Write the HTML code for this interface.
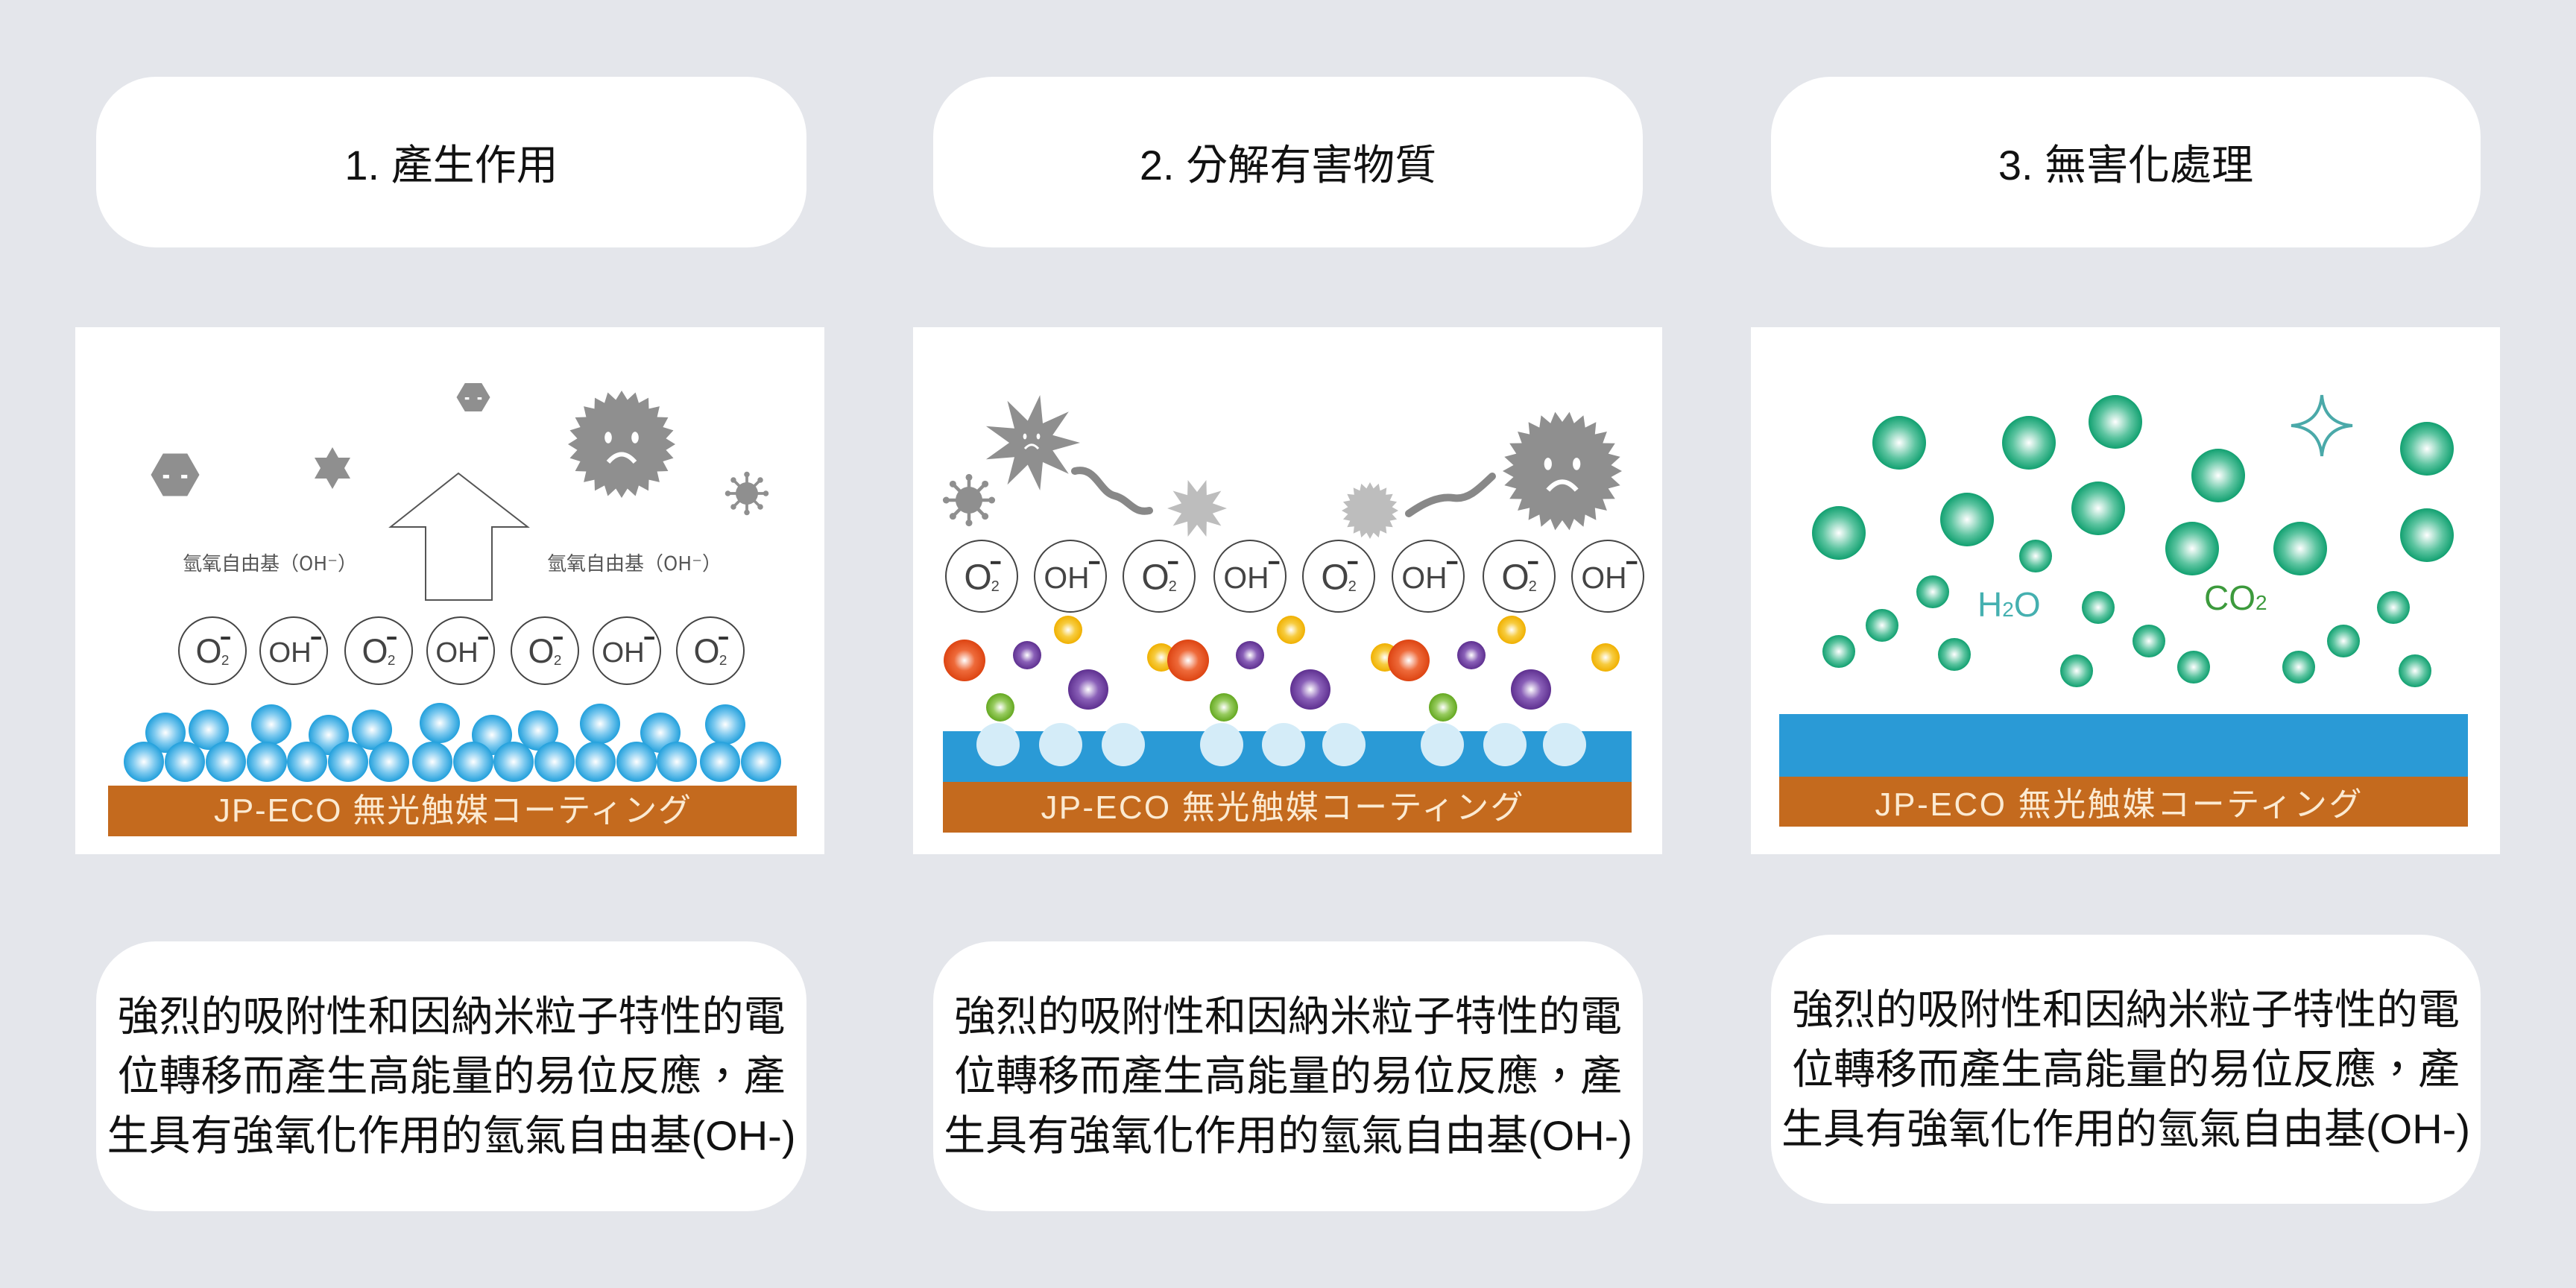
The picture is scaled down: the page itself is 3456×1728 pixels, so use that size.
<!DOCTYPE html>
<html><head><meta charset="utf-8"><style>
html,body{margin:0;padding:0;background:#e4e6eb;}
body{width:3456px;height:1728px;position:relative;overflow:hidden;font-family:"Liberation Sans","Noto Sans CJK TC",sans-serif;}
.box{position:absolute;background:#fff;border-radius:80px;display:flex;align-items:center;justify-content:center;text-align:center;color:#111;}
.hdr{font-size:56px;}
.txt{font-size:56px;line-height:80px;}
.panel{position:absolute;background:#fff;}
svg{position:absolute;left:0;top:0;}
</style></head><body>
<div class="box hdr" style="left:129px;top:103px;width:953px;height:229px;">1. 產生作用</div>
<div class="box hdr" style="left:1252px;top:103px;width:952px;height:229px;">2. 分解有害物質</div>
<div class="box hdr" style="left:2376px;top:103px;width:952px;height:229px;">3. 無害化處理</div>

<div class="panel" style="left:101px;top:439px;width:1005px;height:707px;"></div>
<div class="panel" style="left:1225px;top:439px;width:1005px;height:707px;"></div>
<div class="panel" style="left:2349px;top:439px;width:1005px;height:707px;"></div>

<div class="box txt" style="left:129px;top:1263px;width:953px;height:362px;">強烈的吸附性和因納米粒子特性的電<br>位轉移而產生高能量的易位反應，產<br>生具有強氧化作用的氫氣自由基(OH-)</div>
<div class="box txt" style="left:1252px;top:1263px;width:952px;height:362px;">強烈的吸附性和因納米粒子特性的電<br>位轉移而產生高能量的易位反應，產<br>生具有強氧化作用的氫氣自由基(OH-)</div>
<div class="box txt" style="left:2376px;top:1254px;width:952px;height:361px;">強烈的吸附性和因納米粒子特性的電<br>位轉移而產生高能量的易位反應，產<br>生具有強氧化作用的氫氣自由基(OH-)</div>

<svg id="s" width="3456" height="1728" viewBox="0 0 3456 1728" xmlns="http://www.w3.org/2000/svg">
<defs>
<radialGradient id="gb" cx="50%" cy="50%" r="50%"><stop offset="0" stop-color="#fff"/><stop offset="0.55" stop-color="#7cc9ef"/><stop offset="1" stop-color="#22a0dc"/></radialGradient>
<radialGradient id="gg" cx="50%" cy="50%" r="50%"><stop offset="0" stop-color="#fff"/><stop offset="0.6" stop-color="#5cc4a0"/><stop offset="1" stop-color="#11a070"/></radialGradient>
<radialGradient id="go" cx="50%" cy="50%" r="50%"><stop offset="0" stop-color="#fff"/><stop offset="0.5" stop-color="#ee6a3a"/><stop offset="1" stop-color="#dd4412"/></radialGradient>
<radialGradient id="gp" cx="50%" cy="50%" r="50%"><stop offset="0" stop-color="#fff"/><stop offset="0.5" stop-color="#8a60b8"/><stop offset="1" stop-color="#5e3090"/></radialGradient>
<radialGradient id="gy" cx="50%" cy="50%" r="50%"><stop offset="0" stop-color="#fff"/><stop offset="0.5" stop-color="#f7cc40"/><stop offset="1" stop-color="#f0b000"/></radialGradient>
<radialGradient id="gl" cx="50%" cy="50%" r="50%"><stop offset="0" stop-color="#fff"/><stop offset="0.5" stop-color="#98cc60"/><stop offset="1" stop-color="#64a820"/></radialGradient>
</defs>
<!-- panel 1 -->
<rect x="145" y="1054" width="924" height="68" fill="#c46a1e"/>
<text x="607" y="1102" font-size="44" fill="#fbead2" text-anchor="middle" textLength="640" font-family="Liberation Sans,Noto Sans CJK JP,sans-serif">JP-ECO 無光触媒コーティング</text>
<polygon points="615,635 524,707 571,707 571,805 660,805 660,707 708,707" fill="#fff" stroke="#555" stroke-width="2"/>
<text x="245" y="765" font-size="26" fill="#555" font-family="Noto Sans CJK TC,sans-serif">氫氧自由基（OH⁻）</text>
<text x="734" y="765" font-size="26" fill="#555" font-family="Noto Sans CJK TC,sans-serif">氫氧自由基（OH⁻）</text>
<g id="p1"></g>
<!-- panel 2 -->
<rect x="1265" y="981" width="924" height="68" fill="#2a9ad6"/>
<rect x="1265" y="1049" width="924" height="68" fill="#c46a1e"/>
<text x="1720" y="1098" font-size="44" fill="#fbead2" text-anchor="middle" textLength="647" font-family="Liberation Sans,Noto Sans CJK JP,sans-serif">JP-ECO 無光触媒コーティング</text>
<path d="M1442,632 C1470,625 1475,660 1495,665 S1520,690 1542,685" fill="none" stroke="#888" stroke-width="10" stroke-linecap="round"/>
<path d="M1890,689 C1910,675 1930,665 1950,668 S1985,655 2002,639" fill="none" stroke="#888" stroke-width="10" stroke-linecap="round"/>
<g id="p2"></g>
<!-- panel 3 -->
<rect x="2387" y="958" width="924" height="84" fill="#2a9ad6"/>
<rect x="2387" y="1042" width="924" height="67" fill="#c46a1e"/>
<text x="2842" y="1094" font-size="44" fill="#fbead2" text-anchor="middle" textLength="653" font-family="Liberation Sans,Noto Sans CJK JP,sans-serif">JP-ECO 無光触媒コーティング</text>
<path d="M3115,530 Q3118,568 3156,571 Q3118,574 3115,612 Q3112,574 3074,571 Q3112,568 3115,530 Z" fill="none" stroke="#4aa9a9" stroke-width="4"/>
<text x="2653" y="827" font-size="46" fill="#45b0b0">H<tspan font-size="28">2</tspan>O</text>
<text x="2957" y="818" font-size="46" fill="#3c9a3c">CO<tspan font-size="28">2</tspan></text>
<g id="p3"></g>
</svg>
<script>
var NS="http://www.w3.org/2000/svg";
function el(g,tag,a,txt){var e=document.createElementNS(NS,tag);for(var k in a)e.setAttribute(k,a[k]);if(txt!==undefined)e.textContent=txt;document.getElementById(g).appendChild(e);return e;}
function ball(g,x,y,r,f){el(g,"circle",{cx:x,cy:y,r:r,fill:"url(#"+f+")"});}
function spiky(g,cx,cy,ro,ri,n,fill){var p=[];for(var i=0;i<2*n;i++){var a=Math.PI*i/n,r=i%2?ri:ro;p.push((cx+r*Math.cos(a)).toFixed(1)+","+(cy+r*Math.sin(a)).toFixed(1));}el(g,"polygon",{points:p.join(" "),fill:fill});}
function hex(g,cx,cy,w,h){var p=[[cx-w/2,cy],[cx-w/4,cy-h/2],[cx+w/4,cy-h/2],[cx+w/2,cy],[cx+w/4,cy+h/2],[cx-w/4,cy+h/2]];el(g,"polygon",{points:p.map(function(q){return q.join(",")}).join(" "),fill:"#8f8f8f"});el(g,"rect",{x:cx-w/4,y:cy,width:w/8,height:h/12,fill:"#fff"});el(g,"rect",{x:cx+w/8,y:cy,width:w/8,height:h/12,fill:"#fff"});}
function virus(g,cx,cy,r){for(var i=0;i<8;i++){var a=Math.PI*i/4;el(g,"line",{x1:cx,y1:cy,x2:cx+r*1.6*Math.cos(a),y2:cy+r*1.6*Math.sin(a),stroke:"#8f8f8f","stroke-width":r/4});el(g,"circle",{cx:cx+r*1.7*Math.cos(a),cy:cy+r*1.7*Math.sin(a),r:r/4,fill:"#8f8f8f"});}el(g,"circle",{cx:cx,cy:cy,r:r,fill:"#8f8f8f"});}
function face(g,cx,cy,s){el(g,"ellipse",{cx:cx-s*0.3,cy:cy-s*0.15,rx:s*0.08,ry:s*0.13,fill:"#fff"});el(g,"ellipse",{cx:cx+s*0.3,cy:cy-s*0.15,rx:s*0.08,ry:s*0.13,fill:"#fff"});el(g,"path",{d:"M"+(cx-s*0.3)+","+(cy+s*0.4)+" Q"+cx+","+(cy+s*0.05)+" "+(cx+s*0.3)+","+(cy+s*0.4),fill:"none",stroke:"#fff","stroke-width":s*0.1});}
function ion(g,x,y,r,oh){el(g,"circle",{cx:x,cy:y,r:r,fill:"#fff",stroke:"#444","stroke-width":2});
 if(oh){el(g,"text",{x:x-5,y:y+r*0.33,"font-size":r*0.85,"text-anchor":"middle",fill:"#444","font-family":"Liberation Sans"},"OH");el(g,"rect",{x:x+r*0.52,y:y-r*0.42,width:r*0.3,height:4,fill:"#333"});}
 else{el(g,"text",{x:x-5,y:y+r*0.36,"font-size":r*1.0,"text-anchor":"middle",fill:"#444","font-family":"Liberation Sans"},"O");el(g,"text",{x:x+r*0.38,y:y+r*0.42,"font-size":r*0.42,"text-anchor":"middle",fill:"#444","font-family":"Liberation Sans"},"2");el(g,"rect",{x:x+r*0.25,y:y-r*0.42,width:r*0.28,height:4,fill:"#333"});}}
// panel 1
hex("p1",235,637,65,57);hex("p1",635,533,45,38);
el("p1","polygon",{points:"446,600 470,642 422,642",fill:"#8f8f8f"});el("p1","polygon",{points:"446,656 470,614 422,614",fill:"#8f8f8f"});
spiky("p1",834,596,72,60,24,"#8f8f8f");face("p1",834,596,60);
virus("p1",1002,662,15);
[285,394,508,618,731,841,953].forEach(function(x,i){ion("p1",x,873,45,i%2==1);});
var top1=[[222,983],[280,979],[364,972],[441,986],[499,979],[590,970],[660,986],[722,980],[805,971],[886,983],[973,972]];
var bot1=[193,248,303,358,412,467,522,580,635,689,744,799,854,908,966,1021];
top1.forEach(function(p){ball("p1",p[0],p[1],27,"gb");});
bot1.forEach(function(x){ball("p1",x,1022,27,"gb");});
// panel 2
virus("p2",1300,671,18);
spiky("p2",1384,594,65,30,9,"#8f8f8f");face("p2",1384,590,30);
spiky("p2",1606,682,40,22,10,"#bdbdbd");
spiky("p2",1838,685,38,30,20,"#bdbdbd");
spiky("p2",2096,632,80,66,26,"#8f8f8f");face("p2",2096,632,64);
[1339,1423,1507,1639,1722,1803,1935,2019,2099].forEach(function(x){el("p2","circle",{cx:x,cy:999,r:29,fill:"#d4ecf8"});});
[1317,1436,1555,1677,1796,1916,2038,2157].forEach(function(x,i){ion("p2",x,773,48,i%2==1);});
[[1294,886,28,"go"],[1378,879,19,"gp"],[1433,845,19,"gy"],[1460,925,27,"gp"],[1342,949,19,"gl"],
 [1558,882,19,"gy"],[1594,886,28,"go"],[1677,879,19,"gp"],[1732,845,19,"gy"],[1758,925,27,"gp"],[1642,949,19,"gl"],
 [1858,882,19,"gy"],[1890,886,28,"go"],[1974,879,19,"gp"],[2028,845,19,"gy"],[2054,925,27,"gp"],[1936,949,19,"gl"],[2154,882,19,"gy"]
].forEach(function(b){ball("p2",b[0],b[1],b[2],b[3]);});
// panel 3
[[2548,594],[2722,594],[2838,566],[2976,638],[3256,602],[2467,715],[2639,697],[2815,682],[2941,736],[3086,736],[3256,718]].forEach(function(p){ball("p3",p[0],p[1],36,"gg");});
[[2731,746],[2593,794],[2525,839],[2467,874],[2622,878],[2815,815],[2786,900],[2883,860],[2943,895],[3084,895],[3144,860],[3211,815],[3240,900]].forEach(function(p){ball("p3",p[0],p[1],22,"gg");});
</script>
</body></html>
